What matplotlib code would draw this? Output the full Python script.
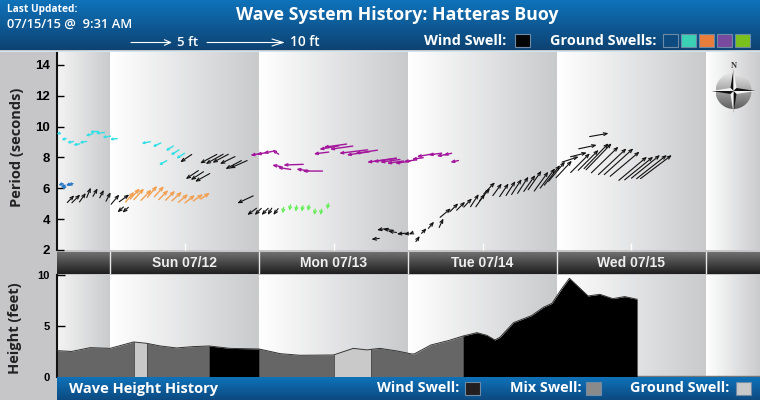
# Wave system history chart for the Hatteras buoy.
import numpy as np
import matplotlib
matplotlib.use("Agg")
import matplotlib.pyplot as plt
from matplotlib.colors import LinearSegmentedColormap
from matplotlib.patches import Circle, Polygon, Rectangle

W, H = 760, 400
PX_PER_FT = 8

# All times are hours from Sun 07/12 00:00.
day_edges = [-8.54, 0, 24, 48, 72, 96, 104.7]
day_labels = ["Sun 07/12", "Mon 07/13", "Tue 07/14", "Wed 07/15"]
day_centers = [12, 36, 60, 84]

# Wind swell arrows.
wind_hours = [-5.75, -4.8, -3.9, -3.1, -2.0, -1, 0.1, 1.5, 3.1,
              1.2, 2.0,
              11.3, 14.5, 15.4, 16.5, 17.7, 18.6, 19.3,
              12.2, 13, 13.7,
              20.5, 22.1, 23.3, 24.4, 25.4, 26.3,
              42.1, 43.0, 44, 44.8, 46.2, 47.3, 48.1,
              49.9, 51, 52.2, 53.7, 54.9, 56.1, 57.2, 58.3, 59.4, 60.4, 61.2,
              62.0, 63.1, 64.2, 65.3, 66.3, 67.4, 68.5, 69.5, 70.6, 71.7, 72.5, 73.3, 74.4,
              75.5, 76.8, 78.4, 80.3, 80.8, 81.9, 83.2, 84.3, 85.3, 86.5, 87.5, 88.6, 89.7, 90.5,
              77.3, 78.7, 80.3]
wind_period = [5.55, 5.6, 5.7, 6.05, 6.0, 5.9, 5.75, 5.6, 5.6,
               4.44, 4.42,
               7.69, 7.62, 7.58, 7.66, 7.58, 7.25, 7.30,
               6.60, 6.54, 6.43,
               5.03, 4.27, 4.27, 4.27, 4.27, 4.27,
               2.69, 3.3, 3.34, 3.23, 3.04, 3.04, 3.02,
               2.91, 3.41, 3.84, 4.05, 4.70, 5.03, 5.13, 5.35, 5.63, 5.65, 6.0,
               6.39, 6.32, 6.32, 6.47, 6.60, 6.76, 6.86, 7.14, 7.08, 7.30, 7.51, 7.73, 7.79,
               8.05, 8.31, 8.81, 9.57, 8.92, 8.70, 8.59, 8.59, 8.38, 8.05, 8.05, 8.16, 8.16, 8.16,
               8.27, 8.49, 8.92]
wind_height = [1.27, 1.47, 1.38, 1.35, 1.16, 1.12, 1.27, 1.6, 1.55,
               1, 1,
               1.75, 2.37, 2.5, 2.25, 2.1, 2.25, 2.37,
               1.9, 1.9, 2.1,
               2.2, 1.43, 1.18, 1.18, 1, 1,
               1, 1.4, 1.25, 1.05, 1.05, 0.6, 0.6,
               0.85, 0.9, 1.1, 1.25, 1.75, 1.5, 1.5, 1.5, 1.9, 2.0, 2.0,
               2.0, 1.9, 2.0, 2.15, 2.3, 2.5, 2.5, 2.9, 3.0, 3.1, 3.2, 3.2, 2.9,
               2.2, 2.1, 2.3, 2.4, 4.6, 4.7, 4.8, 4.9, 4.8, 4.6, 4.6, 4.6, 4.8, 4.9,
               3.4, 3.6, 4.4]
wind_dir = [44, 45, 35, 22, 30, 27, 27, 40, 54,
            228, 228,
            236, 242, 241, 242, 244, 242, 246,
            236, 237, 241,
            245, 234, 225, 225, 211, 217,
            263, 262, 275, 280, 265, 265, 250,
            35, 45, 40, 25, 50, 45, 45, 43, 33, 35, 40,
            44, 36, 34, 33, 33, 33, 35, 35, 36, 37, 38, 40, 43,
            72, 76, 78, 80, 44, 46, 47, 48, 50, 50, 51, 51, 52, 53,
            45, 45, 44]

# Ground swell arrows, one set per colour.
blue_hours = [-8.3, -7.9, -7.5, -7.1, -6.7]
blue_period = [6.2, 6.05, 5.9, 6.2, 6.2]
blue_height = [0.6, 0.6, 0.5, 0.6, 0.6]
blue_dir = [250, 240, 200, 255, 250]

cyan_hours = [-8.6, -7.8, -6.9, -5.9, -4.9, -3.9, -3.2, -2.3, -1.2, 0,
              5.1, 6.9, 7.9, 9.0, 9.8, 10.7]
cyan_period = [9.52, 9.13, 8.96, 8.81, 8.96, 9.41, 9.65, 9.57, 9.31, 9.18,
               8.92, 8.70, 7.51, 8.44, 8.16, 7.94]
cyan_height = [0.5, 0.6, 0.8, 0.8, 0.9, 0.9, 1.0, 1.1, 1.0, 0.9,
               1.1, 1.1, 1.1, 1.1, 1.2, 1.2]
cyan_dir = [255, 250, 260, 260, 260, 255, 265, 265, 262, 265,
            260, 245, 240, 238, 238, 238]

orange_hours = [3.9, 4.8, 5.5, 6.7, 7.6, 8.7, 9.4, 10.5, 11.6, 12.6, 13.7, 15, 16.1]
orange_period = [5.78, 6.0, 6.0, 5.93, 6.17, 6.15, 5.89, 5.85, 5.78, 5.63, 5.57, 5.63, 5.72]
orange_height = [1.7, 1.8, 1.9, 1.9, 1.9, 1.8, 1.7, 1.7, 1.7, 1.6, 1.6, 1.5, 1.4]
orange_dir = [40, 42, 42, 44, 40, 42, 45, 45, 48, 50, 52, 55, 55]

purple_hours = [22.6, 23.6, 24.7, 26.1,
                26.1, 27, 27.9, 30, 31,
                32.8, 33.7, 34.4, 35.4, 36.9, 38.1, 39.5,
                41.4, 42.4, 43.5, 44.6, 45.9, 47.3, 48.6, 49.4, 51.3, 52.6, 53.7, 54.8]
purple_period = [8.14, 8.20, 8.29, 8.51,
                 7.51, 7.36, 7.51, 7.25, 7.12,
                 8.23, 8.53, 8.66, 8.53, 8.27, 8.16, 8.27,
                 7.69, 7.73, 7.69, 7.62, 7.62, 7.73, 7.88, 8.05, 8.16, 8.10, 8.16, 7.69]
purple_height = [1.15, 1.15, 1.15, 1.0,
                 1.15, 1.65, 2.5, 1.55, 2.5,
                 1.9, 2.5, 2.9, 2.9, 3.6, 2.9, 2.8,
                 3.7, 2.9, 2.5, 2.1, 1.9, 1.65, 1.45, 2.1, 1.65, 1.45, 1.05, 1.05]
purple_dir = [260, 260, 260, 305,
              280, 279, 268, 278, 270,
              263, 260, 262, 262, 263, 262, 262,
              262, 262, 262, 262, 262, 262, 262, 260, 262, 262, 258, 258]

green_hours = [27.8, 28.9, 29.9, 30.9, 31.9, 32.9, 33.9, 35]
green_period = [4.38, 4.55, 4.49, 4.49, 4.53, 4.27, 4.27, 4.64]
green_height = [0.75, 0.75, 0.75, 0.75, 0.75, 0.75, 0.75, 0.75]
green_dir = [190, 190, 190, 190, 190, 190, 190, 190]

# Wave height history.
height_hours = [-8.54, -6.2, -3.2, 0, 3.8, 5.9, 8.1, 10.7, 13.4, 16, 19.3, 24, 27.4, 30.6,
                36, 39.2, 41.4, 42, 43.5, 46.2, 48.6, 49, 51.7, 54.5, 56.9, 59.1, 60.7, 62,
                62.8, 65, 67.9, 69.8, 71.2, 72.8, 74, 75.7, 77, 78.9, 81, 82.9, 84.9]
height_feet = [2.58, 2.5, 2.87, 2.8, 3.42, 3.29, 3.03, 2.84, 2.97, 3.03, 2.8, 2.74, 2.29, 2.13,
               2.16, 2.8, 2.65, 2.7, 2.8, 2.55, 2.26, 2.26, 3.13, 3.55, 4.0, 4.32, 4.06, 3.61,
               3.87, 5.29, 5.97, 6.77, 7.16, 8.61, 9.58, 8.61, 7.87, 8.03, 7.61, 7.81, 7.55]
swell_starts = [-8.54, 3.8, 5.9, 16, 24, 36, 42, 56.9]
swell_ends = [3.8, 5.9, 16, 24, 36, 42, 56.9, 84.9]
swell_kinds = ["mix", "ground", "mix", "wind", "mix", "ground", "mix", "wind"]
swell_colors = {"mix": "#666666", "ground": "#c9c9c9", "wind": "#000000"}

SANS = "Liberation Sans"
HEAD = "Open Sans"


def px_axes(left, top, right, bottom, **kw):
    # axes placed by pixel edges, y counted from the top of the figure
    return fig.add_axes([left / W, 1 - bottom / H, (right - left) / W, (bottom - top) / H], **kw)


def gradient(ax, x0, x1, y0, y1, c0, c1, vertical=False, clip=None):
    cmap = LinearSegmentedColormap.from_list("g", [c0, c1])
    g = np.linspace(0, 1, 128)
    g = g.reshape(-1, 1) if vertical else g.reshape(1, -1)
    im = ax.imshow(g, extent=[x0, x1, y1, y0], origin="upper", cmap=cmap, aspect="auto",
                   vmin=0, vmax=1, zorder=0)
    if clip is not None:
        im.set_clip_path(clip)
    return im


def day_shading(ax, ymin, ymax):
    for i in range(len(day_edges) - 1):
        first = "#f4f4f4" if i == 0 else "#ffffff"
        gradient(ax, day_edges[i], day_edges[i + 1], ymax, ymin, first, "#c9cacc")
    ax.set_xlim(day_edges[0], day_edges[-1])
    ax.set_ylim(ymin, ymax)


def draw_arrows(ax, hours, period, height, direction, color, head=(0.25, 0.1), lw=0.8):
    style = f"->,head_length={head[0]},head_width={head[1]}"
    for t, p, h, d in zip(hours, period, height, direction, strict=True):
        dx = PX_PER_FT * h * np.sin(np.radians(d))
        dy = PX_PER_FT * h * np.cos(np.radians(d))
        ax.annotate("", xy=(t, p), xytext=(-dx, -dy), textcoords="offset pixels",
                    arrowprops=dict(arrowstyle=style, color=color, lw=lw, shrinkA=0, shrinkB=0),
                    zorder=3)


fig = plt.figure(figsize=(W / 100, H / 100), dpi=100, facecolor="#c6c6c8")

# Period panel.
ax = px_axes(57, 52, 760, 250)
day_shading(ax, 2, 14.84)
draw_arrows(ax, blue_hours, blue_period, blue_height, blue_dir, "#2a78c4", head=(0.15, 0.08), lw=1)
draw_arrows(ax, cyan_hours, cyan_period, cyan_height, cyan_dir, "#30dfe6", head=(0.12, 0.06), lw=1)
draw_arrows(ax, orange_hours, orange_period, orange_height, orange_dir, "#f2a050", lw=1)
draw_arrows(ax, purple_hours, purple_period, purple_height, purple_dir, "#a3159c", head=(0.2, 0.08), lw=1)
draw_arrows(ax, green_hours, green_period, green_height, green_dir, "#62ee55", head=(0.2, 0.1), lw=0.9)
draw_arrows(ax, wind_hours, wind_period, wind_height, wind_dir, "#111111")
ax.set_yticks([2, 4, 6, 8, 10, 12, 14])
ax.set_yticklabels([2, 4, 6, 8, 10, 12, 14], family=SANS, fontweight="bold", fontsize=9.5)
ax.tick_params(axis="y", direction="in", length=5, width=1, pad=5)
ax.set_xticks(day_centers)
ax.set_xticklabels([])
ax.tick_params(axis="x", direction="in", length=5, width=1, color="white")
for s in ["top", "right", "bottom"]:
    ax.spines[s].set_visible(False)
ax.spines["left"].set_linewidth(1.5)
ax.spines["left"].set_color("#111111")

# Day band.
band = px_axes(57, 252, 760, 274)
gradient(band, day_edges[0], day_edges[-1], 1, 0, "#707070", "#1e1e1e", vertical=True)
band.set_xlim(day_edges[0], day_edges[-1])
band.set_ylim(0, 1)
for e in day_edges[1:-1]:
    band.axvline(e, color="#e8e8e8", lw=1)
for c, label_text in zip(day_centers, day_labels):
    band.text(c, 0.5, label_text, color="#eeeeee", ha="center", va="center", family=SANS,
              fontweight="bold", fontsize=10)
band.axis("off")

# Height panel.
low = px_axes(57, 275, 760, 377.3)
day_shading(low, 0, 9.9)
hours = np.array(height_hours)
feet = np.array(height_feet)
for a, b, kind in zip(swell_starts, swell_ends, swell_kinds):
    mask = (hours >= a) & (hours <= b)
    low.fill_between(hours[mask], 0, feet[mask], color=swell_colors[kind], lw=0, zorder=2)
    low.plot([a, a], [0, feet[mask][0]], color="#444444", lw=0.6, zorder=2)
low.plot(hours, feet, color="#333333", lw=0.7, zorder=3)
low.axhline(0.1, color="#777777", lw=1, zorder=1)
low.set_yticks([0, 5, 9.87])
low.set_yticklabels([0, 5, 10], family=SANS, fontweight="bold", fontsize=8)
low.tick_params(axis="y", direction="in", length=6, width=1, pad=5)
low.set_xticks([])
for s in ["top", "right", "bottom"]:
    low.spines[s].set_visible(False)
low.spines["left"].set_linewidth(1.5)
low.spines["left"].set_color("#111111")

# Header, footer and compass sit on a pixel overlay.
top = fig.add_axes([0, 0, 1, 1], facecolor="none", zorder=5)
top.set_xlim(0, W)
top.set_ylim(H, 0)
gradient(top, 0, W, 0, 50.5, "#0f74bc", "#0d4272", vertical=True)
top.add_patch(Rectangle((0, 50.5), W, 1.5, color="#cfe3f2", lw=0, zorder=1))
gradient(top, 57, W, 377.5, H, "#0f72ba", "#0c4a80", vertical=True)
top.set_xlim(0, W)
top.set_ylim(H, 0)
top.axis("off")


def label(x, y, s, size, ha="left", weight="bold", family=HEAD, color="white", **kw):
    top.text(x, y, s, color=color, fontsize=size, ha=ha, va="center", fontweight=weight,
             family=family, zorder=4, **kw)


def box(x, y0, y1, face, w=15, edge="#6d8aa6"):
    top.add_patch(Rectangle((x, y0), w, y1 - y0, facecolor=face, edgecolor=edge, lw=0.8, zorder=4))


label(7, 9.5, "Last Updated:", 7.3)
label(7, 24, "07/15/15 @  9:31 AM", 9.3, weight="semibold")
label(397, 14.5, "Wave System History: Hatteras Buoy", 12.8, ha="center", weight="bold")

for x0, x1, hl, hw in [(131, 172, 0.45, 0.2), (207, 285, 0.8, 0.25)]:
    top.annotate("", xy=(x1, 42.5), xytext=(x0, 42.5),
                 arrowprops=dict(arrowstyle=f"->,head_length={hl},head_width={hw}", color="white",
                                 lw=0.8, shrinkA=0, shrinkB=0), zorder=4)
label(177, 42.5, "5 ft", 9.5, weight="semibold")
label(290, 42.5, "10 ft", 9.8, weight="semibold")

label(424, 41, "Wind Swell:", 10.4)
box(515, 34, 47, "#050505")
label(550, 41, "Ground Swells:", 10.4)
for x, c in zip([663, 681, 699, 717, 735], ["#0d4a80", "#3ad1b4", "#e97e3c", "#7a4a9e", "#7ac11e"]):
    box(x, 34, 47, c)

label(69, 388.5, "Wave Height History", 10.5)
label(377, 388.5, "Wind Swell:", 10.4)
box(465, 382, 395, "#231f20")
label(510, 388.5, "Mix Swell:", 10.4)
box(586, 382, 395, "#8a8a8a")
label(630, 388.5, "Ground Swell:", 10.4)
box(736, 382, 395, "#c9c9c9")

top.text(17, 147, "Period (seconds)", rotation=90, ha="center", va="center", family=HEAD,
         fontweight="bold", fontsize=10.5, color="#222222", zorder=4)
top.text(15, 328, "Height (feet)", rotation=90, ha="center", va="center", family=HEAD,
         fontweight="bold", fontsize=10.5, color="#222222", zorder=4)

# Compass.
cx, cy = 733.5, 91
disc = Circle((cx, cy), 18, transform=top.transData, facecolor="none", edgecolor="none")
top.add_patch(disc)
gradient(top, cx - 18, cx + 18, cy - 18, cy + 18, "#e8e8e8", "#5e5e5e", vertical=True, clip=disc).set_zorder(2)
top.set_xlim(0, W)
top.set_ylim(H, 0)
arms = [((0, -22), (-3, -3)), ((0, -22), (3, -3)), ((22, 0), (3, -3)), ((22, 0), (3, 3)),
        ((0, 22), (3, 3)), ((0, 22), (-3, 3)), ((-22, 0), (-3, 3)), ((-22, 0), (-3, -3))]
for i, (tip, side) in enumerate(arms):
    shade = "#111111" if i % 2 == 0 else "#f4f4f4"
    top.add_patch(Polygon([(cx, cy), (cx + tip[0], cy + tip[1]), (cx + side[0], cy + side[1])],
                          facecolor=shade, edgecolor="none", zorder=3))
top.text(cx, 65.5, "N", fontsize=6, ha="center", va="center", family="Liberation Serif",
         fontweight="bold", color="#333333", zorder=4)

fig.savefig("out.png", dpi=100)
